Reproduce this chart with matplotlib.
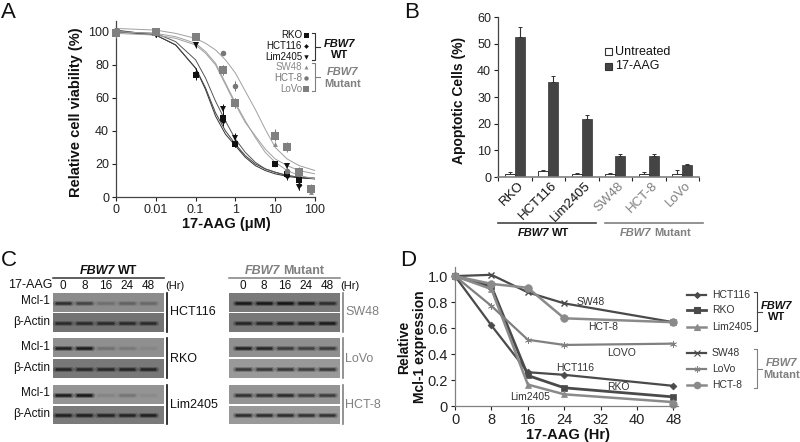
import matplotlib
matplotlib.use('Agg')
import matplotlib.pyplot as plt
from matplotlib.patches import Rectangle
from matplotlib.lines import Line2D

plt.rcParams['font.family'] = ['Liberation Sans', 'DejaVu Sans']

W, H = 800, 442
DARK = '#111111'
GRAY = '#808080'

# panel A
conc_ticks = ['0', '0.01', '0.1', '1', '10', '100']
# positions are decades on the broken log axis (0 -> 0, 0.01 -> 1, 0.1 -> 2 ...)
point_pos = [0, 1, 2, 2.7, 3, 4, 4.3, 4.6, 4.9]
a_names = ['RKO', 'HCT116', 'Lim2405', 'SW48', 'HCT-8', 'LoVo']
a_colors = ['#111111', '#111111', '#111111', '#8a8a8a', '#777777', '#808080']
a_markers = ['s', 'D', 'v', '^', 'o', 's']
a_sizes = [4.5, 3, 4, 3.5, 4, 5.5]
a_points = [
    [100, 99, 74, 48, 32, 20, 14, 10, None],
    [100, 99, 75, 46, 32, 20, 13, 7, None],
    [99, 98, 92, 53, 36, 20, 19, 6, None],
    [100, 100, 97, 77, 57, 32, 16, 15, 3],
    [101, 100, 97, 87, 67, 38, 16, 14, 5],
    [99, 100, 97, 77, 57, 37, 30, 15, 5],
]
a_errs = [
    [2, 2, 3, 3, 2, 1, 2, 2, 0],
    [1, 2, 3, 3, 2, 1, 3, 3, 0],
    [1, 1, 2, 3, 3, 1, 1, 2, 0],
    [2, 2, 1, 3, 3, 1, 2, 2, 1],
    [1, 1, 1, 1, 3, 3, 2, 2, 1],
    [3, 2, 2, 3, 3, 3, 3, 3, 3],
]
curve_pos = [0, 1, 1.5, 2, 2.25, 2.5, 2.75, 3, 3.25, 3.5, 3.75, 4, 4.3, 4.6, 5]
a_curves = [
    ([100, 98, 92, 78, 65, 49, 38, 31, 24, 19, 16, 14, 12.5, 11.5, 11], '#333333'),
    ([101, 98, 92, 78, 66, 51, 40, 32, 25, 20, 17, 15, 13, 12, 11], '#444444'),
    ([100, 99, 94, 83, 72, 58, 46, 35, 27, 21, 17, 15, 13, 12, 11.5], '#555555'),
    ([99, 98, 96, 92, 87, 80, 68, 56, 45, 37, 29, 23, 19, 16, 14], '#a0a0a0'),
    ([102, 101, 99, 96, 93, 89, 83, 75, 64, 53, 41, 30, 23, 19, 16], '#a0a0a0'),
    ([100, 99, 97, 93, 88, 81, 69, 57, 46, 36, 27, 21, 16, 13, 11], '#a0a0a0'),
]

# panel B
b_cells = ['RKO', 'HCT116', 'Lim2405', 'SW48', 'HCT-8', 'LoVo']
b_untreated = [1.0, 2.1, 1.2, 1.0, 1.3, 1.3]
b_untreated_err = [0.9, 0.7, 0.2, 0.4, 0.4, 1.5]
b_aag = [52.5, 35.8, 21.8, 7.8, 7.7, 4.4]
b_aag_err = [3.8, 2.0, 1.6, 0.8, 0.8, 0.6]

# panel C, band strength per lane (0 h, 8, 16, 24, 48)
hours = ['0', '8', '16', '24', '48']
c_left = [
    ('HCT116', 0.55, [.75, .55, .2, .3, .25], 0.45, [.7, .7, .7, .7, .7]),
    ('RKO', 0.56, [.9, .95, .2, .15, .06], 0.47, [.8, .75, .75, .8, .8]),
    ('Lim2405', 0.58, [.95, 1, .1, .2, .06], 0.48, [.85, .85, .8, .8, .85]),
]
c_right = [
    ('SW48', 0.48, [.95, .95, 1, .9, .7], 0.47, [.8, .8, .85, .85, .9]),
    ('LoVo', 0.56, [.9, .85, .65, .6, .65], 0.60, [.7, .7, .7, .65, .7]),
    ('HCT-8', 0.58, [.75, .75, .8, .65, .65], 0.60, [.8, .8, .8, .75, .75]),
]

# panel D
d_ticks = [0, 8, 16, 24, 32, 40, 48]
d_time = [0, 8, 16, 24, 48]
d_hct116 = [1.0, 0.62, 0.26, 0.24, 0.155]
d_rko = [1.0, 0.92, 0.235, 0.14, 0.07]
d_lim = [1.0, 0.90, 0.165, 0.09, 0.03]
d_sw48 = [1.0, 1.01, 0.875, 0.79, 0.645]
d_lovo = [1.0, 0.77, 0.51, 0.47, 0.48]
d_hct8 = [1.0, 0.94, 0.91, 0.675, 0.645]
d_series = [
    ('HCT116', d_hct116, '#4a4a4a', 'D', 3.5, 1.6),
    ('RKO', d_rko, '#4a4a4a', 's', 5, 2.0),
    ('Lim2405', d_lim, '#8a8a8a', '^', 4.5, 1.8),
    ('SW48', d_sw48, '#4a4a4a', 'x', 4.5, 1.6),
    ('LoVo', d_lovo, '#808080', (6, 2, 0), 5, 1.6),
    ('HCT-8', d_hct8, '#8a8a8a', 'o', 5.5, 1.8),
]
d_wt_end = [0.015]


def px_axes(fig, x0, y0, x1, y1, **kw):
    # rectangle given in image pixels, y downwards
    return fig.add_axes([x0 / W, 1 - y1 / H, (x1 - x0) / W, (y1 - y0) / H], **kw)


def style(ax, size=9):
    ax.spines['top'].set_visible(False)
    ax.spines['right'].set_visible(False)
    for s in ['left', 'bottom']:
        ax.spines[s].set_color('#444444')
        ax.spines[s].set_linewidth(0.9)
    ax.tick_params(colors='#222222', width=0.8, length=3, pad=2, labelsize=size)
    ax.patch.set_alpha(0)


fig = plt.figure(figsize=(W / 100, H / 100), dpi=100)

# overlay in pixel coordinates for labels and brackets
ov = fig.add_axes([0, 0, 1, 1], zorder=10)
ov.set_xlim(0, W)
ov.set_ylim(H, 0)
ov.axis('off')


def t(x, y, s, size=7, color=DARK, ha='center', **kw):
    ov.text(x, y, s, fontsize=size, color=color, ha=ha, va='center', **kw)


def bracket(x, y0, y1, color, tick=None):
    ov.plot([x - 3, x, x, x - 3], [y0, y0, y1, y1], color=color, lw=0.8)
    if tick:
        ym = (y0 + y1) / 2
        ov.plot([x, x + tick], [ym, ym], color=color, lw=0.8)


for s, x, y in [('A', 1, 12), ('B', 404, 12), ('C', 1, 260), ('D', 400, 260)]:
    t(x, y, s, size=16, ha='left')

# A
ax = px_axes(fig, 116, 21, 315, 197)
style(ax)
ax.set_xlim(0, 5)
ax.set_ylim(0, 106.5)
for (cy, cc) in a_curves:
    ax.plot(curve_pos, cy, color=cc, lw=0.7)
for vals, errs, c, m, ms in zip(a_points, a_errs, a_colors, a_markers, a_sizes):
    xs = [p for p, v in zip(point_pos, vals) if v is not None]
    ys = [v for v in vals if v is not None]
    es = [e for e, v in zip(errs, vals) if v is not None]
    ax.errorbar(xs, ys, yerr=es, fmt=m, color=c, ms=ms, elinewidth=0.7, capsize=1.5,
                capthick=0.6, mew=0, clip_on=False, zorder=3)
ax.set_xticks(range(6))
ax.set_xticklabels(conc_ticks)
ax.set_yticks([0, 20, 40, 60, 80, 100])
t(76, 112, 'Relative cell viability (%)', size=10.5, rotation=90, fontweight='bold')
t(226, 224, '17-AAG (\u03bcM)', size=10.5, fontweight='bold')
for i, (n, c, m, ms) in enumerate(zip(a_names, a_colors, a_markers, a_sizes)):
    y = 35 + i * 10.8
    t(302, y, n, size=7, color=c, ha='right')
    ov.plot([306], [y], marker=m, color=c, ms=ms * 0.8, mew=0)
bracket(315, 33, 60, '#333333', tick=5)
bracket(315, 63, 91, GRAY, tick=5)
t(340, 44, 'FBW7', size=8, fontweight='bold', fontstyle='italic')
t(340, 55, 'WT', size=8, fontweight='bold')
t(343, 72, 'FBW7', size=8, color=GRAY, fontweight='bold', fontstyle='italic')
t(343, 84, 'Mutant', size=8, color=GRAY, fontweight='bold')

# B
ax = px_axes(fig, 498, 17, 699, 177)
style(ax)
ax.spines['bottom'].set_color(GRAY)
ax.spines['bottom'].set_linewidth(1.2)
ax.set_xlim(0, 6)
ax.set_ylim(0, 60)
centers = [i + 0.5 for i in range(len(b_cells))]
bw = 0.3
ax.bar([c - bw / 2 for c in centers], b_untreated, bw, color='white', edgecolor='#333333',
       linewidth=0.7, yerr=[[0] * 6, b_untreated_err],
       error_kw=dict(ecolor='#333333', elinewidth=0.8, capsize=1.5, capthick=0.7))
ax.bar([c + bw / 2 for c in centers], b_aag, bw, color='#444444', edgecolor='#333333',
       linewidth=0.5, yerr=[[0] * 6, b_aag_err],
       error_kw=dict(ecolor='#333333', elinewidth=0.8, capsize=1.5, capthick=0.7))
ax.set_xticks(range(7))
ax.set_xticklabels([])
ax.set_yticks(range(0, 70, 10))
for c, n, col in zip(centers, b_cells, [DARK] * 3 + [GRAY] * 3):
    ax.annotate(n, (c, 0), xytext=(2, -2), textcoords='offset points', rotation=45,
                ha='right', va='top', rotation_mode='anchor', fontsize=9.5, color=col)
t(459, 100, 'Apoptotic Cells (%)', size=10, rotation=90, fontweight='bold')
ov.add_patch(Rectangle((605, 48), 7, 7, fc='white', ec='#333333', lw=0.8))
ov.add_patch(Rectangle((605, 63), 7, 7, fc='#444444', ec='#333333', lw=0.8))
t(615, 52, 'Untreated', size=9, ha='left')
t(615, 66, '17-AAG', size=9, ha='left')
ov.plot([498, 596], [223, 223], color='#444444', lw=1.2)
ov.plot([605, 703], [223, 223], color=GRAY, lw=1.2)
t(549, 233, 'FBW7', size=8, fontweight='bold', fontstyle='italic', ha='right')
t(552, 233, 'WT', size=8, fontweight='bold', ha='left')
t(651, 233, 'FBW7', size=8, color=GRAY, fontweight='bold', fontstyle='italic', ha='right')
t(654, 233, 'Mutant', size=8, color=GRAY, fontweight='bold', ha='left')


# C
def band_ax(x0, y0, x1, y1, lane0, lane4, bg, strengths):
    b = px_axes(fig, x0, y0, x1, y1)
    b.set_facecolor(str(bg))
    per = (lane4 - lane0) / 4
    b.set_xlim((x0 - lane0) / per, (x1 - lane0) / per)
    b.set_ylim(0, 1)
    b.set_xticks([])
    b.set_yticks([])
    for s in b.spines.values():
        s.set_visible(False)
    for i, st in enumerate(strengths):
        # soft band: wide pale stroke under a narrow dark one
        b.plot([i - .38, i + .38], [.5, .5], color='k', lw=3.6, alpha=st * 0.3,
               solid_capstyle='round')
        b.plot([i - .34, i + .34], [.5, .5], color='k', lw=1.8, alpha=st * 0.75,
               solid_capstyle='round')


rows = [(293, 312, 313, 332, 312), (338, 357, 359, 378, 359), (385, 404, 406, 424, 405)]
for group, x0, x1, lane0, lane4, txt_col, bar_x, lab_x in [
    (c_left, 53, 164, 63, 148, DARK, 167, 170),
    (c_right, 229, 340, 243, 327, GRAY, 343, 345),
]:
    for (name, bg1, s1, bg2, s2), (a0, a1, b0, b1, ly) in zip(group, rows):
        band_ax(x0, a0, x1, a1, lane0, lane4, bg1, s1)
        band_ax(x0, b0, x1, b1, lane0, lane4, bg2, s2)
        ov.plot([bar_x, bar_x], [a0, b1], color=txt_col, lw=1.2)
        t(lab_x, ly, name, size=9, color=txt_col, ha='left')
    per = (lane4 - lane0) / 4
    for i, h in enumerate(hours):
        t(lane0 + i * per, 286, h, size=8.5)
    ov.plot([x0, x1], [278, 278], color=('#333333' if txt_col == DARK else GRAY), lw=1.1)
for (a0, a1, b0, b1, ly) in rows:
    t(50, (a0 + a1) / 2 - 1, 'Mcl-1', size=8.5, ha='right')
    t(50, (b0 + b1) / 2 - 1, '\u03b2-Actin', size=8.5, ha='right')
t(52, 285, '17-AAG', size=9, ha='right')
t(175, 286, '(Hr)', size=8)
t(350, 286, '(Hr)', size=8)
t(115, 271, 'FBW7', size=9, fontweight='bold', fontstyle='italic', ha='right')
t(118, 271, 'WT', size=9, fontweight='bold', ha='left')
t(280, 271, 'FBW7', size=9, color=GRAY, fontweight='bold', fontstyle='italic', ha='right')
t(283, 271, 'Mutant', size=9, color=GRAY, fontweight='bold', ha='left')

# D
ax = px_axes(fig, 455, 267, 678, 406)
style(ax, size=10.5)
ax.spines['bottom'].set_color(GRAY)
ax.spines['left'].set_color(GRAY)
ax.set_xlim(0, 49)
ax.set_ylim(0, 1.07)
for name, vals, c, m, ms, lw in d_series:
    ax.plot(d_time, vals, color=c, marker=m, ms=ms, lw=lw, mew=1 if m == 'x' else 0.5,
            clip_on=False)
ax.plot([48], d_wt_end, color='#8a8a8a', marker='o', ms=5, clip_on=False)
ax.set_xticks(d_ticks)
ax.set_yticks([0, .2, .4, .6, .8, 1.0])
ax.set_yticklabels(['0', '0.2', '0.4', '0.6', '0.8', '1.0'])
t(404, 347, 'Relative', size=10, rotation=90, fontweight='bold')
t(420, 347, 'Mcl-1 expression', size=10, rotation=90, fontweight='bold')
t(568, 435, '17-AAG (Hr)', size=10.5, fontweight='bold')
for lbl, x, y in [('SW48', 591, 302), ('HCT-8', 603, 327), ('LOVO', 622, 353),
                  ('HCT116', 575, 368), ('RKO', 618, 387), ('Lim2405', 530, 397)]:
    t(x, y, lbl, size=7.5, color='#333333')
for (name, vals, c, m, ms, lw), y in zip(d_series, [295, 310, 327, 353, 369, 385]):
    ov.add_line(Line2D([687, 696.5, 706], [y, y, y], color=c, lw=lw, marker=m, ms=ms * 0.85,
                       markevery=[1], mew=0.8))
    t(712, y, name, size=7.5, color='#333333', ha='left')
bracket(757, 292, 331, '#444444', tick=5)
bracket(757, 349, 388, GRAY, tick=5)
t(777, 306, 'FBW7', size=8, fontweight='bold', fontstyle='italic')
t(777, 317, 'WT', size=8, fontweight='bold')
t(782, 363, 'FBW7', size=8, color=GRAY, fontweight='bold', fontstyle='italic')
t(782, 375, 'Mutant', size=8, color=GRAY, fontweight='bold')

fig.savefig('out.png', dpi=100)
